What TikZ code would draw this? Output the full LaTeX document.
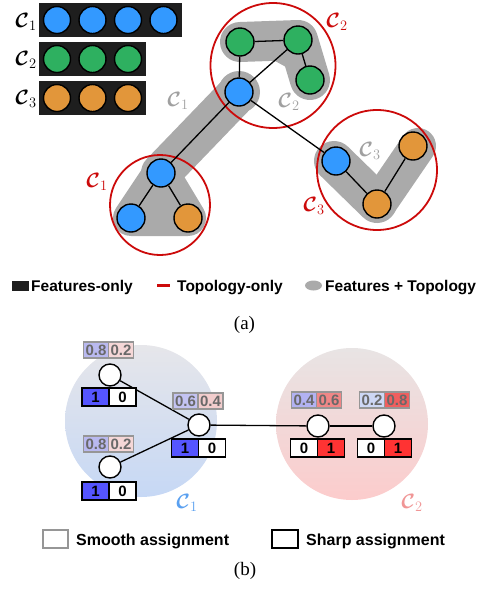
\documentclass[tikz,border=0pt]{standalone}
\usepackage{fontspec}
\usepackage{bm}
\setmainfont{Liberation Serif}
\setsansfont{Liberation Sans}
\usetikzlibrary{backgrounds,shapes.geometric}
\definecolor{cblue}{RGB}{51,153,255}
\definecolor{cgreen}{RGB}{46,176,96}
\definecolor{corange}{RGB}{226,150,58}
\definecolor{cred}{RGB}{204,10,10}
\definecolor{blobgray}{RGB}{170,170,170}
\definecolor{labgray}{RGB}{160,160,160}
\definecolor{fblack}{RGB}{30,30,30}
\definecolor{cAtop}{RGB}{230,230,234}
\definecolor{cAbot}{RGB}{198,216,245}
\definecolor{cBtop}{RGB}{232,228,228}
\definecolor{cBbot}{RGB}{252,204,204}
\definecolor{labblue}{RGB}{90,160,240}
\definecolor{labpink}{RGB}{240,150,150}
\definecolor{smoothgray}{RGB}{150,150,150}
\definecolor{numgray}{RGB}{105,105,105}
\definecolor{sbA}{RGB}{185,185,240}
\definecolor{srA}{RGB}{245,215,215}
\definecolor{sbB}{RGB}{195,195,242}
\definecolor{srB}{RGB}{242,205,205}
\definecolor{sbC}{RGB}{178,178,242}
\definecolor{srC}{RGB}{240,135,135}
\definecolor{sbD}{RGB}{205,215,245}
\definecolor{srD}{RGB}{240,95,95}
\definecolor{hblue}{RGB}{85,85,255}
\definecolor{hred}{RGB}{255,51,51}
\newcommand{\cl}[1]{$\bm{\mathcal{C}}_{#1}$}
\begin{document}
\begin{tikzpicture}[x=1pt,y=-1pt,
  featbox/.style={fill=fblack,draw=none,inner sep=0,minimum height=34},
  gnode/.style={circle,draw=black,line width=1.4,minimum size=28,inner sep=0},
  redc/.style={circle,draw=cred,line width=1.8,inner sep=0,fill=none},
  blob/.style={draw=blobgray,fill=blobgray,line join=round,line cap=round},
  clab/.style={inner sep=0,font=\fontsize{20}{24}\selectfont},
  wnode/.style={circle,draw=black,line width=1.4,fill=white,minimum size=22,inner sep=0},
  scell/.style={draw=smoothgray,line width=1.5,minimum width=25,minimum height=16,inner sep=0,outer sep=0,
     font=\sffamily\bfseries\fontsize{15}{15}\selectfont,text=numgray},
  hcell/.style={draw=black,line width=1.5,minimum width=27,minimum height=18,inner sep=0,outer sep=0,
     font=\sffamily\bfseries\fontsize{15}{15}\selectfont},
  leg/.style={font=\sffamily\bfseries\fontsize{15.5}{16}\selectfont,anchor=base west,inner sep=0},
  captext/.style={font=\fontsize{19}{20}\selectfont,anchor=base,inner sep=0},
  edge/.style={line width=1.3}
]
\useasboundingbox (0,0) rectangle (482,590);

% ---------- (a) feature rows ----------
\node[featbox,minimum width=143] (fb1) at (110.5,20) {};
\node[featbox,minimum width=107] (fb2) at (92.5,59) {};
\node[featbox,minimum width=107] (fb3) at (92.5,98) {};
\foreach \x/\k in {57/1,92.5/2,128/3,163.5/4}{\node[gnode,minimum size=27,fill=cblue] (fa\k) at (\x,20) {};}
\foreach \x/\k in {57/1,92.5/2,128/3}{\node[gnode,minimum size=27,fill=cgreen] (fg\k) at (\x,59) {};}
\foreach \x/\k in {57/1,92.5/2,128/3}{\node[gnode,minimum size=27,fill=corange] (fo\k) at (\x,98) {};}
\node[clab] (l1) at (26,22) {\cl{1}};
\node[clab] (l2) at (26,60) {\cl{2}};
\node[clab] (l3) at (26,99) {\cl{3}};

% ---------- (a) graph ----------
\node[redc,minimum size=125] (R2) at (273,65.5) {};
\node[redc,minimum size=100] (R1) at (160,205) {};
\node[redc,minimum size=120] (R3) at (377,170) {};

\node[gnode,fill=cgreen] (g1) at (240,42) {};
\node[gnode,fill=cgreen] (g2) at (298,40) {};
\node[gnode,fill=cgreen] (g3) at (310,80) {};
\node[gnode,fill=cblue] (bt) at (239,92) {};
\node[gnode,fill=cblue] (bm) at (161,173) {};
\node[gnode,fill=cblue] (bl) at (131,218) {};
\node[gnode,fill=corange] (br) at (188,218) {};
\node[gnode,fill=cblue] (b3) at (336,161) {};
\node[gnode,fill=corange] (ob) at (377,204) {};
\node[gnode,fill=corange] (ot) at (413,146) {};

\draw[edge] (g1) -- (g2);
\draw[edge] (g1) -- (bt);
\draw[edge] (g2) -- (bt);
\draw[edge] (g2) -- (g3);
\draw[edge] (bt) -- (bm);
\draw[edge] (bt) -- (b3);
\draw[edge] (bm) -- (bl);
\draw[edge] (bm) -- (br);
\draw[edge] (b3) -- (ob);
\draw[edge] (ob) -- (ot);

\begin{pgfonlayer}{background}
  \draw[blob,line width=40] (bt.center) -- (bm.center);
  \fill[blobgray] (bt.center) circle[radius=21];
  \filldraw[blob,line width=36] (bm.center) -- (bl.center) -- (br.center) -- cycle;
  \draw[blob,line width=40] (g1.center) -- (g2.center) -- (g3.center);
  \draw[blob,line width=40] ([xshift=-2pt]b3.center) -- ([yshift=1pt]ob.center);
  \draw[blob,line width=36] ([yshift=1pt,xshift=2pt]ob.center) -- ([xshift=5pt]ot.center);
\end{pgfonlayer}

\node[clab,text=labgray] (gl1) at (178,101) {\cl{1}};
\node[clab,text=labgray] (gl2) at (289,102) {\cl{2}};
\node[clab,text=labgray] (gl3) at (370,151) {\cl{3}};
\node[clab,text=cred] (rl2) at (337,22) {\cl{2}};
\node[clab,text=cred] (rl1) at (97,182) {\cl{1}};
\node[clab,text=cred] (rl3) at (314,206) {\cl{3}};

% ---------- (a) legend ----------
\node[fill=fblack,minimum width=17,minimum height=10,inner sep=0] (lgA) at (20,285.5) {};
\node[leg] (lgAt) at (31,291) {Features-only};
\coordinate (lr1) at (157,285.5);
\coordinate (lr2) at (170,285.5);
\draw[cred,line width=2.5] (lr1) -- (lr2);
\node[leg] (lgBt) at (177,291) {Topology-only};
\node[ellipse,fill=blobgray,minimum width=17,minimum height=10,inner sep=0] (lgC) at (313.5,285.5) {};
\node[leg] (lgCt) at (325,291) {Features + Topology};
\node[captext] (capa) at (244.5,329) {(a)};

% ---------- (b) ----------
\node[circle,minimum size=152,inner sep=0,top color=cAtop,bottom color=cAbot] (CA) at (141,421) {};
\node[circle,minimum size=152,inner sep=0,top color=cBtop,bottom color=cBbot] (CB) at (352,424) {};

\node[wnode] (n1) at (110,375) {};
\node[wnode] (n2) at (110,467) {};
\node[wnode] (n3) at (199,425) {};
\node[wnode] (n4) at (318,426) {};
\node[wnode] (n5) at (384,426) {};
\draw[edge] (n1) -- (n3);
\draw[edge] (n2) -- (n3);
\draw[edge] (n3) -- (n4);
\draw[edge] (n4) -- (n5);

% n1
\node[scell,fill=sbA,anchor=east] (s1a) at (108.5,350) {0.8};
\node[scell,fill=srA,anchor=west] (s1b) at (108.5,350) {0.2};
\node[hcell,fill=hblue,anchor=east] (h1a) at (109,397) {1};
\node[hcell,fill=white,anchor=west] (h1b) at (109,397) {0};
% n2
\node[scell,fill=sbA,anchor=east] (s2a) at (108.5,444) {0.8};
\node[scell,fill=srA,anchor=west] (s2b) at (108.5,444) {0.2};
\node[hcell,fill=hblue,anchor=east] (h2a) at (109,491) {1};
\node[hcell,fill=white,anchor=west] (h2b) at (109,491) {0};
% n3
\node[scell,fill=sbB,anchor=east] (s3a) at (198,401) {0.6};
\node[scell,fill=srB,anchor=west] (s3b) at (198,401) {0.4};
\node[hcell,fill=hblue,anchor=east] (h3a) at (198.5,448) {1};
\node[hcell,fill=white,anchor=west] (h3b) at (198.5,448) {0};
% n4
\node[scell,fill=sbC,anchor=east] (s4a) at (316.5,400) {0.4};
\node[scell,fill=srC,anchor=west] (s4b) at (316.5,400) {0.6};
\node[hcell,fill=white,anchor=east] (h4a) at (317.5,448) {0};
\node[hcell,fill=hred,anchor=west] (h4b) at (317.5,448) {1};
% n5
\node[scell,fill=sbD,anchor=east] (s5a) at (384.5,400) {0.2};
\node[scell,fill=srD,anchor=west] (s5b) at (384.5,400) {0.8};
\node[hcell,fill=white,anchor=east] (h5a) at (384.5,448) {0};
\node[hcell,fill=hred,anchor=west] (h5b) at (384.5,448) {1};

\node[clab,text=labblue] (bl1) at (187,503) {\cl{1}};
\node[clab,text=labpink] (bl2) at (412,503) {\cl{2}};

% ---------- (b) legend ----------
\node[draw=smoothgray,line width=1.8,minimum width=25,minimum height=18,inner sep=0] (lgS) at (55.5,539) {};
\node[leg,font=\sffamily\bfseries\fontsize{16}{16}\selectfont] (lgSt) at (76,545) {Smooth assignment};
\node[draw=black,line width=1.8,minimum width=26,minimum height=18,inner sep=0] (lgH) at (285,539) {};
\node[leg,font=\sffamily\bfseries\fontsize{16}{16}\selectfont] (lgHt) at (306,545) {Sharp assignment};
\node[captext] (capb) at (245,575) {(b)};
\end{tikzpicture}
\end{document}
